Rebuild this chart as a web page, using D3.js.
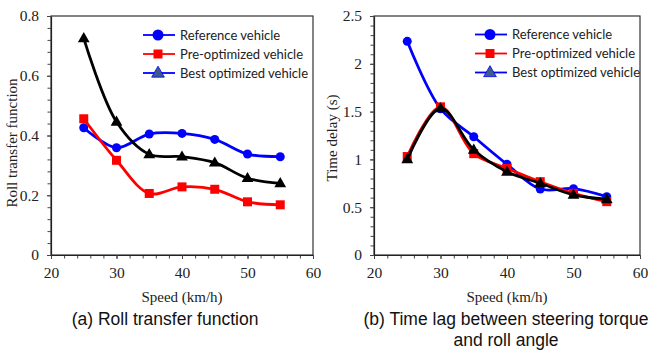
<!DOCTYPE html>
<html>
<head>
<meta charset="utf-8">
<script src="https://cdn.jsdelivr.net/npm/d3@7"></script>
<style>
  body { margin: 0; background: #fff; }
  .tick text { font-family: "Liberation Serif", serif; font-size: 15.5px; fill: #222; }
  .title { font-family: "Liberation Serif", serif; font-size: 15px; fill: #222; }
  .legend text { font-family: Lato, sans-serif; font-size: 13px; fill: #222; }
  .caption { font-family: "Liberation Sans", Arial, sans-serif; font-size: 17.5px; fill: #111; }
</style>
</head>
<body>
<script>
// data
const speeds = [25, 30, 35, 40, 45, 50, 55];
const rollRef  = [0.426, 0.359, 0.405, 0.407, 0.387, 0.338, 0.329];
const rollPre  = [0.456, 0.317, 0.206, 0.228, 0.220, 0.178, 0.168];
const rollBest = [0.725, 0.446, 0.337, 0.329, 0.309, 0.257, 0.240];
const delayRef  = [2.235, 1.530, 1.237, 0.949, 0.690, 0.694, 0.610];
const delayPre  = [1.030, 1.550, 1.060, 0.907, 0.767, 0.645, 0.558];
const delayBest = [1.000, 1.535, 1.100, 0.870, 0.750, 0.628, 0.583];
const seriesNames = ["Reference vehicle", "Pre-optimized vehicle", "Best optimized vehicle"];
const xTicks = [20, 30, 40, 50, 60];
const rollTicks = [0, 0.2, 0.4, 0.6, 0.8];
const delayTicks = [0, 0.5, 1, 1.5, 2, 2.5];

const svg = d3.select("body").append("svg")
  .attr("width", 660)
  .attr("height", 360);

const styles = [
  { color: "#0000ff", marker: "circle" },
  { color: "#ff0000", marker: "square" },
  { color: "#000000", marker: "triangle" }
];

function drawMarker(g, type, x, y, fill) {
  if (type === "circle") {
    g.append("circle").attr("cx", x).attr("cy", y).attr("r", 4.5).attr("fill", fill);
  } else if (type === "square") {
    g.append("rect").attr("x", x - 4.5).attr("y", y - 4.5).attr("width", 9).attr("height", 9).attr("fill", fill);
  } else {
    g.append("path")
      .attr("d", d3.symbol(d3.symbolTriangle, 60)())
      .attr("transform", "translate(" + x + "," + (y + 0.5) + ")")
      .attr("fill", fill);
  }
}

function panel(opt) {
  const x = d3.scaleLinear().domain([20, 60]).range([opt.left, opt.right]);
  const y = d3.scaleLinear().domain([0, opt.ymax]).range([255, 16]);
  const g = svg.append("g");

  // frame
  g.append("rect")
    .attr("x", opt.left).attr("y", 16)
    .attr("width", opt.right - opt.left).attr("height", 239)
    .attr("fill", "none").attr("stroke", "#333").attr("stroke-width", 1.2);

  // minor ticks
  g.append("g")
    .attr("transform", "translate(0,255)")
    .call(d3.axisBottom(x).tickValues(d3.range(20, 61, 2)).tickSize(3.5).tickFormat(""))
    .call(a => a.select(".domain").remove());
  g.append("g")
    .attr("transform", "translate(" + opt.left + ",0)")
    .call(d3.axisLeft(y).tickValues(d3.range(0, opt.ymax + 1e-9, opt.minor)).tickSize(3.5).tickFormat(""))
    .call(a => a.select(".domain").remove());

  // major axes
  g.append("g")
    .attr("transform", "translate(0,255)")
    .call(d3.axisBottom(x).tickValues(xTicks).tickSize(4).tickSizeOuter(0).tickPadding(8))
    .call(a => a.select(".domain").attr("stroke", "#222").attr("stroke-width", 1.2));
  g.append("g")
    .attr("transform", "translate(" + opt.left + ",0)")
    .call(d3.axisLeft(y).tickValues(opt.yTicks).tickSize(4).tickSizeOuter(0).tickPadding(8).tickFormat(d3.format("")))
    .call(a => a.select(".domain").attr("stroke", "#222").attr("stroke-width", 1.2));
  g.selectAll(".tick line").attr("stroke", "#444");

  // axis titles
  g.append("text").attr("class", "title")
    .attr("x", (opt.left + opt.right) / 2).attr("y", 302)
    .attr("text-anchor", "middle").text("Speed (km/h)");
  g.append("text").attr("class", "title")
    .attr("transform", "translate(" + opt.ytx + "," + opt.yty + ") rotate(-90)")
    .attr("text-anchor", "middle").text(opt.ytitle);

  // series
  const line = d3.line()
    .x((d, i) => x(speeds[i]))
    .y(d => y(d))
    .curve(d3.curveCatmullRom.alpha(0.5));
  opt.series.forEach((vals, k) => {
    g.append("path")
      .attr("d", line(vals))
      .attr("fill", "none")
      .attr("stroke", styles[k].color)
      .attr("stroke-width", 2.8);
    vals.forEach((v, i) => drawMarker(g, styles[k].marker, x(speeds[i]), y(v), styles[k].color));
  });

  // legend
  const lg = g.append("g").attr("class", "legend");
  const legendColors = ["#0000ff", "#ff0000", "#0000ff"];
  const markerFill = ["#0000ff", "#ff0000", "#3c5a8c"];
  seriesNames.forEach((name, k) => {
    const ly = opt.legY + k * 19;
    lg.append("line")
      .attr("x1", opt.legX - 15).attr("x2", opt.legX + 17)
      .attr("y1", ly).attr("y2", ly)
      .attr("stroke", legendColors[k]).attr("stroke-width", 1.8);
    if (k === 0) {
      lg.append("circle").attr("cx", opt.legX).attr("cy", ly).attr("r", 5.5).attr("fill", markerFill[k]);
    } else if (k === 1) {
      lg.append("rect").attr("x", opt.legX - 4.5).attr("y", ly - 4.5).attr("width", 9).attr("height", 9).attr("fill", markerFill[k]);
    } else {
      lg.append("path")
        .attr("d", d3.symbol(d3.symbolTriangle, 70)())
        .attr("transform", "translate(" + opt.legX + "," + (ly + 0.5) + ")")
        .attr("fill", markerFill[k]).attr("stroke", "#0000ff").attr("stroke-width", 0.8);
    }
    lg.append("text")
      .attr("x", opt.legX + 22).attr("y", ly + 4.5)
      .text(name);
  });

  // caption
  const cap = g.append("text").attr("class", "caption")
    .attr("text-anchor", "middle");
  opt.caption.forEach((c, i) => {
    cap.append("tspan").attr("x", opt.capX).attr("y", 325 + i * 21).text(c);
  });
}

panel({
  left: 51, right: 313, ymax: 0.8, minor: 0.04, yTicks: rollTicks,
  ytitle: "Roll transfer function", ytx: 17, yty: 143,
  series: [rollRef, rollPre, rollBest],
  legX: 158, legY: 35,
  caption: ["(a) Roll transfer function"], capX: 165
});

panel({
  left: 374, right: 640, ymax: 2.5, minor: 0.1, yTicks: delayTicks,
  ytitle: "Time delay (s)", ytx: 337, yty: 138,
  series: [delayRef, delayPre, delayBest],
  legX: 490, legY: 34.5,
  caption: ["(b) Time lag between steering torque", "and roll angle"], capX: 506
});
</script>
</body>
</html>
